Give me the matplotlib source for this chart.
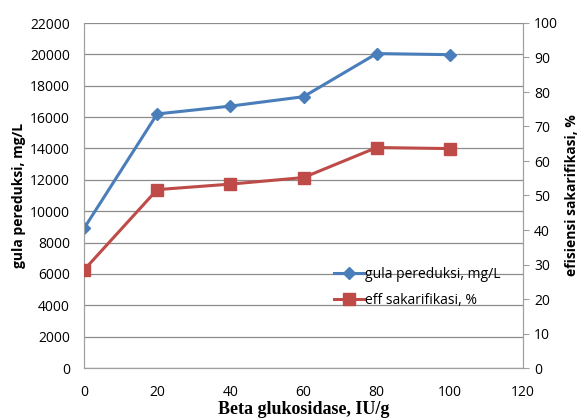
import matplotlib
matplotlib.use("Agg")
import matplotlib.pyplot as plt
from matplotlib.ticker import MultipleLocator

# data
beta_gluc = [0, 20, 40, 60, 80, 100]
gula_pereduksi = [8900, 16200, 16700, 17300, 20050, 19980]
eff_sakarifikasi = [28.4, 51.7, 53.3, 55.2, 63.9, 63.6]

BLUE = "#4A7EBB"
RED = "#BE4B48"
GRID = "#8C8C8C"
TICK_FONT = "Open Sans"

fig = plt.figure(figsize=(5.79, 4.19), dpi=100)
ax = fig.add_axes([84 / 579, 1 - 368 / 419, (523 - 84) / 579, (368 - 23) / 419])
ax2 = ax.twinx()

l1, = ax.plot(beta_gluc, gula_pereduksi, color=BLUE, lw=2.2, marker="D",
              markersize=6, label="gula pereduksi, mg/L", zorder=4)
l2, = ax2.plot(beta_gluc, eff_sakarifikasi, color=RED, lw=2.2, marker="s",
               markersize=8, label="eff sakarifikasi, %", zorder=4)

ax.set_xlim(0, 120)
ax.set_ylim(0, 22000)
ax2.set_ylim(0, 100)
ax.xaxis.set_major_locator(MultipleLocator(20))
ax.yaxis.set_major_locator(MultipleLocator(2000))
ax2.yaxis.set_major_locator(MultipleLocator(10))

ax.grid(True, axis="y", color=GRID, lw=0.9)
ax.set_axisbelow(True)

for a in (ax, ax2):
    for s in a.spines.values():
        s.set_color("#A0A0A0")
    a.spines["top"].set_visible(False)

ax.tick_params(axis="y", length=0, labelsize=10, pad=10, colors="black")
ax.tick_params(axis="x", length=0, labelsize=10, pad=12, colors="black")
ax2.tick_params(axis="y", length=4, color="#A0A0A0", labelsize=10, pad=4)
for lab in ax.get_xticklabels() + ax.get_yticklabels() + ax2.get_yticklabels():
    lab.set_fontfamily(TICK_FONT)

ax.set_ylabel("gula pereduksi, mg/L", fontsize=10, fontweight="bold",
              fontfamily=TICK_FONT, labelpad=3)
ax2.set_ylabel("efisiensi sakarifikasi, %", fontsize=10, fontweight="bold",
               fontfamily=TICK_FONT, rotation=90, labelpad=5)
ax.set_xlabel("Beta glukosidase, IU/g", fontsize=13, fontweight="bold",
              fontfamily="Liberation Serif", labelpad=1)

leg = fig.legend(handles=[l1, l2], loc="upper left",
                 bbox_to_anchor=(321 / 579, 1 - 254 / 419), frameon=False,
                 handlelength=2.2, handletextpad=0.1, labelspacing=0.85,
                 prop={"family": TICK_FONT, "size": 10})

fig.savefig("out.png", dpi=100)
